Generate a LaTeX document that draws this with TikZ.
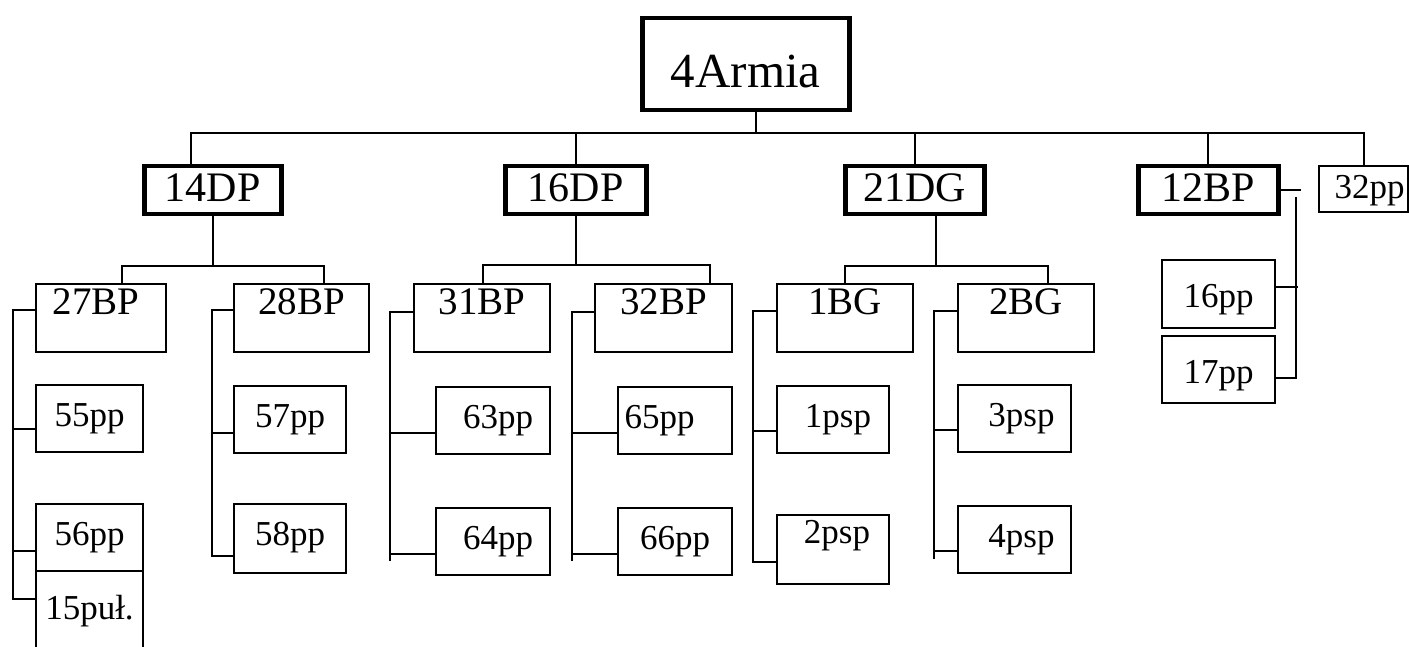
\documentclass[tikz,border=0pt]{standalone}
\usepackage{fontspec}
\setmainfont{Liberation Serif}
\tikzset{
  unit/.style={draw, line width=2pt, inner sep=0pt, anchor=north west},
  hq/.style={unit, line width=4.5pt},
  link/.style={line width=2pt},
  armyfont/.style={font=\fontsize{49}{49}\selectfont},
  divfont/.style={font=\fontsize{42}{42}\selectfont},
  brigfont/.style={font=\fontsize{39}{39}\selectfont},
  regfont/.style={font=\fontsize{35}{35}\selectfont},
  div/.style={hq, divfont, text height=35pt, text depth=13pt},
  brig/.style={unit, brigfont, text height=30pt, text depth=38pt},
  reg/.style={unit, regfont, text height=41pt, text depth=26pt},
}
\begin{document}
\begin{tikzpicture}[x=1pt,y=-1pt]
\clip (0,0) rectangle (1409,647);
%\draw[step=50,gray,very thin] (0,0) grid (1409,647); %background grid
% army
\node[hq, armyfont, minimum width=207pt, text height=69pt, text depth=23pt] (armia) at (640,16) {4Armia};
% divisions
\node[div, minimum width=137pt] (d14) at (142,164) {14DP};
\node[div, minimum width=141pt] (d16) at (503,164) {16DP};
\node[div, minimum width=139pt] (d21) at (843,164) {21DG};
\node[div, minimum width=140pt] (b12) at (1136,164) {12BP};
\node[unit, regfont, minimum width=89pt, text height=33pt, text depth=13pt] (r32) at (1318,165) {\hspace*{12pt}32pp};
% brigades
\node[brig, minimum width=130pt] (b27) at (35,283) {27BP\hspace*{10pt}};
\node[brig, minimum width=135pt] (b28) at (233,283) {28BP};
\node[brig, minimum width=136pt] (b31) at (413,283) {31BP};
\node[brig, minimum width=137pt] (b32) at (594,283) {32BP};
\node[brig, minimum width=136pt] (g1) at (776,283) {1BG};
\node[brig, minimum width=136pt] (g2) at (957,283) {2BG};
% regiments
\node[reg, minimum width=107pt] (r55) at (35,384) {55pp};
\node[reg, minimum width=107pt] (r56) at (35,503) {56pp};
\node[reg, minimum width=107pt, text height=48pt, text depth=42pt] (u15) at (35,570) {15puł.};
\node[reg, minimum width=112pt] (r57) at (233,385) {57pp};
\node[reg, minimum width=112pt, text depth=28pt] (r58) at (233,503) {58pp};
\node[reg, minimum width=114pt] (r63) at (435,386) {\hspace*{10pt}63pp};
\node[reg, minimum width=114pt] (r64) at (435,507) {\hspace*{10pt}64pp};
\node[reg, minimum width=114pt] (r65) at (617,386) {65pp\hspace*{31pt}};
\node[reg, minimum width=114pt] (r66) at (617,507) {66pp};
\node[reg, minimum width=112pt] (s1) at (776,385) {\hspace*{10pt}1psp};
\node[reg, minimum width=112pt, text height=28pt, text depth=41pt] (s2) at (776,514) {\hspace*{8pt}2psp};
\node[reg, minimum width=113pt] (s3) at (957,384) {\hspace*{14pt}3psp};
\node[reg, minimum width=113pt] (s4) at (957,505) {\hspace*{14pt}4psp};
\node[reg, minimum width=113pt, text height=48pt, text depth=20pt] (r16) at (1161,259) {16pp};
\node[reg, minimum width=113pt, text height=47pt, text depth=20pt] (r17) at (1161,335) {17pp};
% army to divisions
\draw[link] ([xshift=10.5pt]armia.south) -- ++(0,21) coordinate (bus);
\draw[link] ([xshift=-22pt]d14.north) |- (bus) -| (r32.north);
\draw[link] (d16.north) -- (d16.north |- bus);
\draw[link] (d21.north) -- (d21.north |- bus);
\draw[link] (b12.north) -- (b12.north |- bus);
% divisions to brigades
\draw[link] (d14.south) -- ++(0,50) coordinate (bar14);
\draw[link] ([xshift=21pt]b27.north) |- (bar14) -| ([xshift=22.5pt]b28.north);
\draw[link] (d16.south) -- ++(0,49) coordinate (bar16);
\draw[link] ([xshift=1pt]b31.north) |- (bar16) -| ([xshift=46.5pt]b32.north);
\draw[link] ([xshift=21.5pt]d21.south) -- ++(0,50) coordinate (bar21);
\draw[link] (g1.north) |- (bar21) -| ([xshift=22pt]g2.north);
% brigades to regiments
\draw[link] ([yshift=8pt]b27.west) -- ++(-22,0) |- ([yshift=17pt]u15.west);
\draw[link] ([yshift=-10pt]r55.west) -- ++(-22,0);
\draw[link] ([yshift=-13pt]r56.west) -- ++(-22,0);
\draw[link] ([yshift=8pt]b28.west) -- ++(-21,0) |- ([yshift=-17pt]r58.west);
\draw[link] ([yshift=-13pt]r57.west) -- ++(-21,0);
\draw[link] ([yshift=6pt]b31.west) -- ++(-23,0) -- ++(0,249);
\draw[link] ([yshift=-12pt]r63.west) -- ++(-45,0);
\draw[link] ([yshift=-12pt]r64.west) -- ++(-45,0);
\draw[link] ([yshift=6pt]b32.west) -- ++(-22,0) -- ++(0,249);
\draw[link] ([yshift=-12pt]r65.west) -- ++(-45,0);
\draw[link] ([yshift=-12pt]r66.west) -- ++(-45,0);
\draw[link] ([yshift=7pt]g1.west) -- ++(-23,0) |- ([yshift=-12pt]s2.west);
\draw[link] ([yshift=-11pt]s1.west) -- ++(-23,0);
\draw[link] ([yshift=7pt]g2.west) -- ++(-23,0) -- ++(0,248);
\draw[link] ([yshift=-11pt]s3.west) -- ++(-23,0);
\draw[link] ([yshift=-11pt]s4.west) -- ++(-23,0);
% 12BP
\draw[link] (b12.east) -- ++(20,0);
\coordinate (c12) at (1296,197);
\draw[link] (c12) |- ([yshift=-8.5pt]r17.east);
\draw[link] ([yshift=7pt]r16.east) -- ++(22,0);
\end{tikzpicture}
\end{document}
